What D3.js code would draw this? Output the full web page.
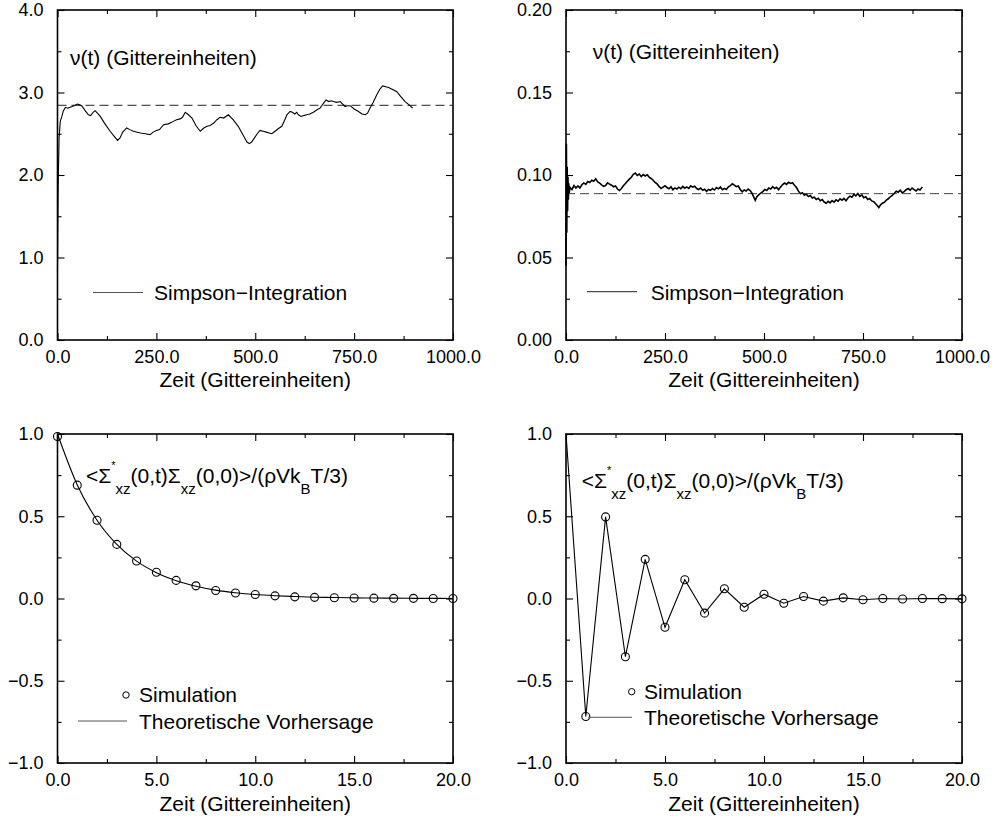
<!DOCTYPE html>
<html>
<head>
<meta charset="utf-8">
<script src="https://cdn.jsdelivr.net/npm/d3@7"></script>
<style>
  body { margin: 0; background: #fff; }
  svg text { font-family: "Liberation Sans", Arial, Helvetica, sans-serif; fill: #000; }
</style>
</head>
<body>
<svg id="chart" width="994" height="821"></svg>
<script>
// top left: viscosity from Simpson integration [t, nu]
const nuSmooth = [
  [0, 0.85], [1, 1.45], [2, 1.95], [4, 2.45], [7, 2.65], [11, 2.71], [15, 2.78], [20, 2.82],
  [26, 2.81], [32, 2.82], [42, 2.84], [50, 2.86], [56, 2.85], [61, 2.84], [70, 2.78], [78, 2.73],
  [84, 2.72], [90, 2.76], [95, 2.78], [101, 2.75], [108, 2.71], [120, 2.62], [133, 2.53],
  [145, 2.46], [152, 2.42], [158, 2.45], [165, 2.52], [175, 2.57], [183, 2.55], [192, 2.53],
  [210, 2.51], [222, 2.50], [234, 2.49], [242, 2.52], [250, 2.54], [258, 2.55], [268, 2.61],
  [280, 2.62], [293, 2.65], [301, 2.67], [310, 2.68], [316, 2.70], [323, 2.76], [331, 2.73],
  [340, 2.69], [350, 2.60], [361, 2.53], [370, 2.57], [378, 2.59], [386, 2.60], [395, 2.63],
  [403, 2.67], [411, 2.70], [420, 2.69], [432, 2.73], [444, 2.67], [457, 2.59], [465, 2.52],
  [472, 2.46], [479, 2.40], [485, 2.38], [491, 2.40], [498, 2.45], [505, 2.50], [512, 2.54],
  [520, 2.53], [528, 2.52], [535, 2.51], [542, 2.50], [550, 2.53], [558, 2.56], [567, 2.59],
  [574, 2.66], [580, 2.73], [588, 2.77], [594, 2.76], [600, 2.74], [605, 2.76], [609, 2.73],
  [616, 2.71], [622, 2.72], [630, 2.73], [638, 2.74], [647, 2.76], [656, 2.79], [664, 2.81],
  [671, 2.86], [679, 2.91], [686, 2.89], [692, 2.90], [698, 2.89], [705, 2.88], [715, 2.89],
  [721, 2.86], [727, 2.83], [733, 2.84], [740, 2.84], [750, 2.80], [761, 2.77], [770, 2.74],
  [778, 2.73], [784, 2.75], [790, 2.81], [798, 2.88], [807, 2.97], [815, 3.04], [822, 3.08],
  [830, 3.07], [837, 3.06], [846, 3.04], [858, 3.01], [868, 2.95], [879, 2.89], [889, 2.85],
  [898, 2.81]
];
const nuSmoothRef = 2.845;

// top right: viscosity, noisy run [t, nu]
const nuNoisy = [
  [0, 0.0450], [1, 0.1190], [2, 0.0650], [3, 0.1050], [4, 0.0780], [5, 0.0990], [6, 0.0850],
  [7, 0.0950], [8, 0.0890], [10, 0.0925], [15, 0.0912], [20, 0.0936], [25, 0.0921], [30, 0.0934],
  [35, 0.0922], [40, 0.0941], [45, 0.0952], [50, 0.0943], [55, 0.0961], [60, 0.0955], [65, 0.0968],
  [70, 0.0962], [75, 0.0977], [80, 0.0958], [85, 0.0951], [90, 0.0940], [95, 0.0931], [100, 0.0936],
  [105, 0.0952], [110, 0.0945], [115, 0.0938], [120, 0.0929], [125, 0.0934], [130, 0.0915],
  [135, 0.0906], [140, 0.0918], [145, 0.0935], [150, 0.0948], [155, 0.0962], [160, 0.0975],
  [165, 0.0986], [170, 0.1004], [175, 0.1012], [180, 0.0998], [185, 0.1006], [190, 0.0991],
  [195, 0.1003], [200, 0.0994], [205, 0.1001], [210, 0.0987], [215, 0.0979], [220, 0.0968],
  [225, 0.0955], [230, 0.0946], [235, 0.0931], [240, 0.0918], [245, 0.0927], [250, 0.0935],
  [255, 0.0924], [260, 0.0917], [265, 0.0929], [270, 0.0911], [275, 0.0922], [280, 0.0915],
  [285, 0.0926], [290, 0.0917], [295, 0.0931], [300, 0.0920], [305, 0.0928], [310, 0.0919],
  [315, 0.0935], [320, 0.0927], [325, 0.0932], [330, 0.0918], [335, 0.0912], [340, 0.0921],
  [345, 0.0908], [350, 0.0914], [355, 0.0901], [360, 0.0912], [365, 0.0907], [370, 0.0918],
  [375, 0.0909], [380, 0.0924], [385, 0.0916], [390, 0.0927], [395, 0.0911], [400, 0.0919],
  [405, 0.0912], [410, 0.0928], [415, 0.0936], [420, 0.0947], [425, 0.0938], [430, 0.0929],
  [435, 0.0933], [440, 0.0912], [445, 0.0898], [450, 0.0909], [455, 0.0903], [460, 0.0915],
  [465, 0.0906], [470, 0.0889], [475, 0.0861], [478, 0.0846], [482, 0.0868], [487, 0.0881],
  [492, 0.0890], [497, 0.0899], [502, 0.0912], [507, 0.0906], [512, 0.0921], [517, 0.0915],
  [522, 0.0929], [527, 0.0918], [532, 0.0925], [537, 0.0911], [542, 0.0928], [547, 0.0942],
  [552, 0.0951], [557, 0.0943], [562, 0.0956], [567, 0.0949], [572, 0.0953], [577, 0.0938],
  [582, 0.0924], [587, 0.0902], [592, 0.0887], [597, 0.0893], [602, 0.0878], [607, 0.0884],
  [612, 0.0870], [617, 0.0876], [622, 0.0861], [627, 0.0866], [632, 0.0852], [637, 0.0859],
  [642, 0.0844], [647, 0.0851], [652, 0.0836], [657, 0.0829], [662, 0.0840], [667, 0.0831],
  [672, 0.0845], [677, 0.0836], [682, 0.0849], [687, 0.0841], [692, 0.0856], [697, 0.0847],
  [702, 0.0858], [707, 0.0844], [712, 0.0861], [717, 0.0872], [722, 0.0866], [727, 0.0883],
  [732, 0.0874], [737, 0.0888], [742, 0.0871], [747, 0.0880], [752, 0.0862], [757, 0.0868],
  [762, 0.0851], [767, 0.0857], [772, 0.0843], [777, 0.0838], [782, 0.0826], [787, 0.0812],
  [790, 0.0802], [794, 0.0818], [799, 0.0829], [804, 0.0835], [809, 0.0848], [814, 0.0856],
  [819, 0.0868], [824, 0.0877], [829, 0.0889], [834, 0.0902], [839, 0.0896], [844, 0.0908],
  [849, 0.0893], [854, 0.0899], [859, 0.0911], [864, 0.0918], [869, 0.0908], [874, 0.0921],
  [879, 0.0912], [884, 0.0903], [889, 0.0915], [894, 0.0909], [899, 0.0925], [900, 0.0928]
];
const nuNoisyRef = 0.0887;

// bottom: stress autocorrelation, t = 0..20
const corrTimes = [0, 1, 2, 3, 4, 5, 6, 7, 8, 9, 10, 11, 12, 13, 14, 15, 16, 17, 18, 19, 20];
const simLeft = [0.985, 0.689, 0.476, 0.329, 0.228, 0.160, 0.110, 0.077, 0.049, 0.033, 0.024,
  0.016, 0.010, 0.007, 0.005, 0.003, 0.002, 0.001, 0.001, 0.000, 0.000];
const theoryLeft = [1.0, 0.690, 0.476, 0.329, 0.227, 0.157, 0.108, 0.075, 0.051, 0.035, 0.024,
  0.017, 0.012, 0.008, 0.006, 0.004, 0.003, 0.002, 0.001, 0.001, 0.000];
const simRight = [null, -0.717, 0.496, -0.354, 0.238, -0.175, 0.114, -0.089, 0.059, -0.053, 0.026,
  -0.029, 0.012, -0.016, 0.004, -0.008, 0.000, -0.003, 0.000, -0.001, -0.002];
const theoryRight = [1.0, -0.717, 0.496, -0.354, 0.238, -0.175, 0.114, -0.089, 0.059, -0.053, 0.026,
  -0.029, 0.012, -0.016, 0.004, -0.008, 0.000, -0.003, 0.000, -0.001, -0.002];

const xTicksLong = [0, 250, 500, 750, 1000];
const xMinorLong = [125, 375, 625, 875];
const xTicksShort = [0, 5, 10, 15, 20];
const xMinorShort = [2.5, 7.5, 12.5, 17.5];
const yTicksTL = [0, 1, 2, 3, 4];
const yMinorTL = [0.5, 1.5, 2.5, 3.5];
const yTicksTR = [0, 0.05, 0.10, 0.15, 0.20];
const yMinorTR = [0.025, 0.075, 0.125, 0.175];
const yTicksCorr = [-1, -0.5, 0, 0.5, 1];
const yMinorCorr = [-0.75, -0.25, 0.25, 0.75];

const xTitle = "Zeit (Gittereinheiten)";
const nuLabel = "\u03bd(t) (Gittereinheiten)";

const svg = d3.select("#chart");

function panel(o) {
  const x = d3.scaleLinear().domain(o.xDomain).range([o.left, o.right]);
  const y = d3.scaleLinear().domain(o.yDomain).range([o.bottom, o.top]);
  const g = svg.append("g");

  function axis(gen, tr, vals, size, fmt, pad) {
    const a = g.append("g")
      .attr("transform", tr)
      .call(gen.tickValues(vals).tickSizeInner(-size).tickSizeOuter(0)
        .tickPadding(pad || 0).tickFormat(fmt ? d3.format(fmt) : ""));
    a.select(".domain").remove();
    a.attr("font-size", 18).attr("font-family", null);
    a.selectAll("line").attr("stroke-width", 1.1);
    return a;
  }
  // major + minor ticks on all four sides, pointing inward
  axis(d3.axisBottom(x), `translate(0,${o.bottom})`, o.xMajor, 7, o.xFmt, 10);
  axis(d3.axisBottom(x), `translate(0,${o.bottom})`, o.xMinor, 4);
  axis(d3.axisTop(x), `translate(0,${o.top})`, o.xMajor, 7);
  axis(d3.axisTop(x), `translate(0,${o.top})`, o.xMinor, 4);
  axis(d3.axisLeft(y), `translate(${o.left},0)`, o.yMajor, 7, o.yFmt, 14);
  axis(d3.axisLeft(y), `translate(${o.left},0)`, o.yMinor, 4);
  axis(d3.axisRight(y), `translate(${o.right},0)`, o.yMajor, 7);
  axis(d3.axisRight(y), `translate(${o.right},0)`, o.yMinor, 4);

  g.append("rect")
    .attr("x", o.left).attr("y", o.top)
    .attr("width", o.right - o.left).attr("height", o.bottom - o.top)
    .attr("fill", "none").attr("stroke", "#000").attr("stroke-width", 1.6);

  g.append("text")
    .attr("x", (o.left + o.right) / 2).attr("y", o.titleY)
    .attr("text-anchor", "middle").attr("font-size", 21)
    .text(xTitle);

  return { x, y, g };
}

const L = 57.5, R = 453, L2 = 566, R2 = 962;

// ---- top left
const p1 = panel({ left: L, right: R, top: 10, bottom: 340, xDomain: [0, 1000], yDomain: [0, 4],
  xMajor: xTicksLong, xMinor: xMinorLong, yMajor: yTicksTL, yMinor: yMinorTL,
  xFmt: ".1f", yFmt: ".1f", titleY: 387 });
p1.g.append("line")
  .attr("x1", p1.x(0)).attr("x2", p1.x(1000))
  .attr("y1", p1.y(nuSmoothRef)).attr("y2", p1.y(nuSmoothRef))
  .attr("stroke", "#222").attr("stroke-dasharray", "9,5");
p1.g.append("path")
  .datum(nuSmooth)
  .attr("d", d3.line().x(d => p1.x(d[0])).y(d => p1.y(d[1])))
  .attr("fill", "none").attr("stroke", "#000").attr("stroke-width", 1.1);
p1.g.append("text").attr("x", 70).attr("y", 65).attr("font-size", 21).text(nuLabel);
p1.g.append("line").attr("x1", 93).attr("x2", 143).attr("y1", 292.5).attr("y2", 292.5)
  .attr("stroke", "#555");
p1.g.append("text").attr("x", 154).attr("y", 300).attr("font-size", 21).text("Simpson\u2212Integration");

// ---- top right
const p2 = panel({ left: L2, right: R2, top: 10, bottom: 340, xDomain: [0, 1000], yDomain: [0, 0.2],
  xMajor: xTicksLong, xMinor: xMinorLong, yMajor: yTicksTR, yMinor: yMinorTR,
  xFmt: ".1f", yFmt: ".2f", titleY: 387 });
p2.g.append("line")
  .attr("x1", p2.x(0)).attr("x2", p2.x(1000))
  .attr("y1", p2.y(nuNoisyRef)).attr("y2", p2.y(nuNoisyRef))
  .attr("stroke", "#444").attr("stroke-dasharray", "9,5");
p2.g.append("path")
  .datum(nuNoisy)
  .attr("d", d3.line().x(d => p2.x(d[0])).y(d => p2.y(d[1])))
  .attr("fill", "none").attr("stroke", "#000").attr("stroke-width", 1.6);
p2.g.append("text").attr("x", 592.7).attr("y", 59).attr("font-size", 21).text(nuLabel);
p2.g.append("line").attr("x1", 587).attr("x2", 637).attr("y1", 291.7).attr("y2", 291.7)
  .attr("stroke", "#222");
p2.g.append("text").attr("x", 650.7).attr("y", 299.5).attr("font-size", 21).text("Simpson\u2212Integration");

// correlation annotation with sub/superscripts
function corrLabel(g, x0, y0) {
  const t = g.append("text").attr("x", x0).attr("y", y0).attr("font-size", 21);
  const parts = [
    ["<\u03a3", 21, 0], ["*", 11, -14], ["xz", 15, 25], ["(0,t)\u03a3", 21, -11], ["xz", 15, 11],
    ["(0,0)>/(\u03c1Vk", 21, -11], ["B", 15, 11], ["T/3)", 21, -11]
  ];
  parts.forEach(([s, fs, dy]) => {
    t.append("tspan").attr("font-size", fs).attr("dy", dy).text(s);
  });
}

// ---- bottom left
const p3 = panel({ left: L, right: R, top: 434, bottom: 763, xDomain: [0, 20], yDomain: [-1, 1],
  xMajor: xTicksShort, xMinor: xMinorShort, yMajor: yTicksCorr, yMinor: yMinorCorr,
  xFmt: ".1f", yFmt: ".1f", titleY: 811 });
p3.g.append("path")
  .datum(corrTimes.map((t, i) => [t, theoryLeft[i]]))
  .attr("d", d3.line().curve(d3.curveMonotoneX).x(d => p3.x(d[0])).y(d => p3.y(d[1])))
  .attr("fill", "none").attr("stroke", "#000").attr("stroke-width", 1.1);
p3.g.selectAll("circle.sim")
  .data(corrTimes.map((t, i) => [t, simLeft[i]]))
  .enter().append("circle")
  .attr("cx", d => p3.x(d[0])).attr("cy", d => p3.y(d[1])).attr("r", 4)
  .attr("fill", "none").attr("stroke", "#000").attr("stroke-width", 1.1);
corrLabel(p3.g, 86, 483);
p3.g.append("circle").attr("cx", 126).attr("cy", 695).attr("r", 3.2)
  .attr("fill", "none").attr("stroke", "#000");
p3.g.append("text").attr("x", 139).attr("y", 702).attr("font-size", 21).text("Simulation");
p3.g.append("line").attr("x1", 78).attr("x2", 127).attr("y1", 721).attr("y2", 721).attr("stroke", "#555");
p3.g.append("text").attr("x", 139).attr("y", 728.5).attr("font-size", 21).text("Theoretische Vorhersage");

// ---- bottom right
const p4 = panel({ left: L2, right: R2, top: 434, bottom: 763, xDomain: [0, 20], yDomain: [-1, 1],
  xMajor: xTicksShort, xMinor: xMinorShort, yMajor: yTicksCorr, yMinor: yMinorCorr,
  xFmt: ".1f", yFmt: ".1f", titleY: 811 });
p4.g.append("path")
  .datum(corrTimes.map((t, i) => [t, theoryRight[i]]))
  .attr("d", d3.line().x(d => p4.x(d[0])).y(d => p4.y(d[1])))
  .attr("fill", "none").attr("stroke", "#000").attr("stroke-width", 1.1);
p4.g.selectAll("circle.sim")
  .data(corrTimes.map((t, i) => [t, simRight[i]]).filter(d => d[1] !== null))
  .enter().append("circle")
  .attr("cx", d => p4.x(d[0])).attr("cy", d => p4.y(d[1])).attr("r", 4)
  .attr("fill", "none").attr("stroke", "#000").attr("stroke-width", 1.1);
corrLabel(p4.g, 581.7, 488);
p4.g.append("circle").attr("cx", 631.7).attr("cy", 691.7).attr("r", 3.2)
  .attr("fill", "none").attr("stroke", "#000");
p4.g.append("text").attr("x", 644).attr("y", 699).attr("font-size", 21).text("Simulation");
p4.g.append("line").attr("x1", 588).attr("x2", 632).attr("y1", 717.3).attr("y2", 717.3).attr("stroke", "#555");
p4.g.append("text").attr("x", 644).attr("y", 725).attr("font-size", 21).text("Theoretische Vorhersage");
</script>
</body>
</html>
